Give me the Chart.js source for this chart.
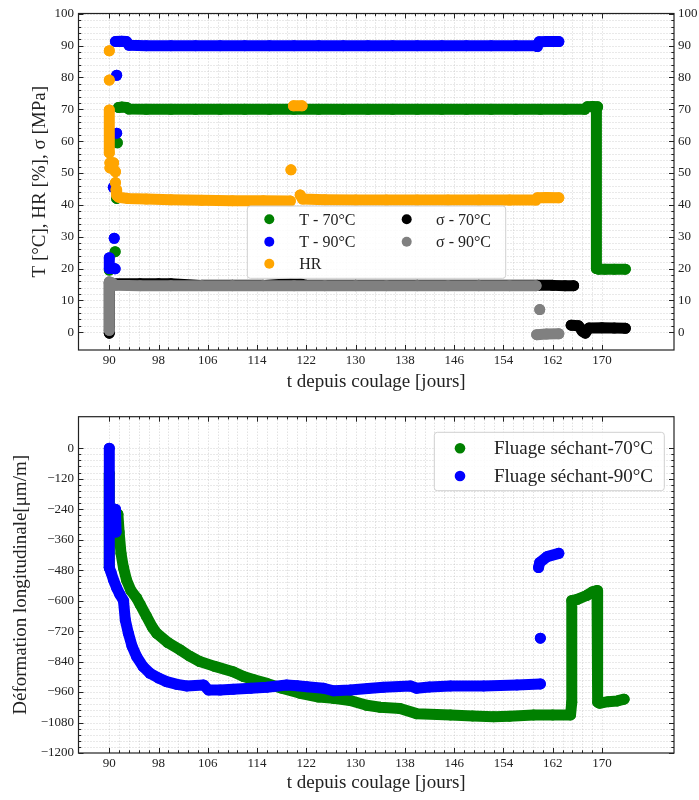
<!DOCTYPE html>
<html><head><meta charset="utf-8">
<script src="https://cdn.jsdelivr.net/npm/chart.js@4.4.0/dist/chart.umd.min.js"></script>
<style>
html,body{margin:0;padding:0;background:#fff;}
#wrap{position:relative;width:699px;height:800px;}
canvas{position:absolute;left:0;}
</style></head><body>
<div id="wrap">
<canvas id="c1" width="699" height="400" style="top:0px"></canvas>
<canvas id="c2" width="699" height="400" style="top:400px"></canvas>
</div>
<script>
// ---------- tick labels ----------
const xTicks = [90, 98, 106, 114, 122, 130, 138, 146, 154, 162, 170];
const yTicksTop = [0, 10, 20, 30, 40, 50, 60, 70, 80, 90, 100];
const yTicksBottom = [0, -120, -240, -360, -480, -600, -720, -840, -960, -1080, -1200];

// ---------- top chart series ----------
const t70Label = 'T - 70°C';
const t70X = [90.0, null, 90.95, null, 91.2, null, 91.3, null, 91.5, 92.0, 92.8, 93.2, 96, 100, 104, 108, 112, 116, 120, 124, 128, 132, 136, 140, 144, 148, 152, 156, 160, 164, 167.2, 167.6, 168.5, 169.3, 169.1, 169.1, 169.4, 170.5, 172, 173.8];
const t70Y = [19.5, null, 25.3, null, 42.0, null, 59.5, null, 70.6, 70.7, 70.6, 70.1, 70, 70, 70, 70, 70, 70, 70, 70, 70, 70, 70, 70, 70, 70, 70, 70, 70, 70, 70.0, 70.8, 70.9, 70.8, 70.0, 20.0, 19.8, 19.8, 19.8, 19.8];

const t90Label = 'T - 90°C';
const t90X = [90.0, 90.0, 90.4, 90.95, null, 90.65, null, 90.8, null, 91.2, null, 91.2, null, 91.0, 92.0, 92.8, 93.2, 96, 100, 104, 108, 112, 116, 120, 124, 128, 132, 136, 140, 144, 148, 152, 156, 159.2, 159.5, 159.8, 161, 163.0];
const t90Y = [23.4, 20.0, 20.2, 19.9, null, 45.5, null, 29.5, null, 62.5, null, 80.7, null, 91.3, 91.4, 91.3, 90.1, 90, 90, 90, 90, 90, 90, 90, 90, 90, 90, 90, 90, 90, 90, 90, 90, 90.0, 89.7, 91.2, 91.3, 91.3];

const hrLabel = 'HR';
const hrX = [90.0, null, 90.0, null, 90.0, 90.0, null, 90.1, 90.7, null, 90.1, 90.6, 91.0, null, 91.0, null, 91.1, 91.2, 91.5, 93, 96, 100, 105, 110, 115, 119.4, null, 119.5, null, 119.9, 121.3, null, 121.0, 121.4, 125, 130, 135, 140, 145, 150, 155, 159.3, 159.5, 161, 163.0];
const hrY = [88.4, null, 79.2, null, 69.8, 56.3, null, 53.2, 53.2, null, 51.6, 51.5, 50.4, null, 47.0, null, 44.8, 43.0, 42.4, 42.0, 41.8, 41.6, 41.4, 41.3, 41.3, 41.2, null, 51.0, null, 71.1, 71.1, null, 43.1, 41.8, 41.6, 41.5, 41.5, 41.5, 41.5, 41.5, 41.5, 41.5, 42.2, 42.3, 42.2];

const s70Label = 'σ - 70°C';
const s70X = [90.0, 90.0, 90.3, 95, 98, 100, 105, 110, 115, 119.5, 121, 122, 130, 140, 150, 159.5, 162, 164, 165.4, null, 165.0, 166.2, 166.8, 167.3, 167.9, 170, 172, 173.8];
const s70Y = [-0.3, 15.5, 15.3, 15.2, 15.2, 15.2, 14.7, 14.7, 14.7, 15.2, 15.2, 14.7, 14.7, 14.7, 14.7, 14.7, 14.7, 14.6, 14.6, null, 2.2, 2.0, 0.3, -0.3, 1.3, 1.4, 1.3, 1.2];

const s90Label = 'σ - 90°C';
const s90X = [90.0, 90.0, 90.4, 91.0, 95, 100, 105, 110, 115, 120, 125, 130, 135, 140, 145, 150, 155, 159.3, null, 159.9, null, 159.4, 161, 163.0];
const s90Y = [0.6, 15.8, 15.5, 14.7, 14.6, 14.6, 14.6, 14.6, 14.6, 14.6, 14.6, 14.6, 14.6, 14.6, 14.6, 14.6, 14.6, 14.6, null, 7.1, null, -0.8, -0.6, -0.5];

// ---------- bottom chart series ----------
const f70Label = 'Fluage séchant-70°C';
const f70X = [90.0, 90.0, null, 91.4, 91.6, 91.9, 92.3, 92.8, 93.5, 94.45, 95.0, 96.0, 97.0, 97.7, 99.5, 101.5, 103.0, 104.7, 107.0, 110.1, 111.8, 113.5, 115.6, 118.0, 121.0, 124.0, 126.4, 129.1, 131.8, 134.0, 137.2, 139.9, 145.4, 149.0, 152.4, 155.0, 158.9, 162.0, 164.9, 165.1, 165.1, 166.0, 167.5, 168.5, 169.2, 169.3, 169.6, 171.0, 172.5, 173.6];
const f70Y = [-100, -470, null, -260, -330, -414, -470, -519, -560, -590, -615, -660, -705, -729, -765, -794, -818, -840, -858, -880, -899, -912, -926, -945, -965, -980, -985, -993, -1012, -1020, -1025, -1045, -1050, -1054, -1057, -1055, -1050, -1050, -1050, -1000, -600, -595, -580, -565, -560, -1000, -1004, -998, -995, -988];

const f90Label = 'Fluage séchant-90°C';
const f90X = [90.0, 90.0, 90.3, 90.7, 91.2, 91.7, 92.3, 92.6, 93.1, 93.7, 94.45, 95.5, 96.6, 98.0, 99.3, 101.0, 102.6, 105.3, 106.1, 108.0, 110.1, 113.0, 115.6, 118.8, 120.5, 122.1, 124.8, 126.4, 129.1, 132.0, 134.5, 138.9, 139.9, 142.0, 145.4, 150.8, 156.2, 160.0, null, 91.0, 91.1, null, 160.0, null, 159.7, 159.9, 161.1, 163.0];
const f90Y = [0, -470, -490, -520, -550, -575, -600, -676, -729, -780, -821, -860, -886, -905, -919, -930, -936, -932, -952, -952, -949, -945, -941, -932, -935, -939, -945, -955, -952, -946, -941, -936, -945, -940, -936, -936, -932, -928, null, -240, -330, null, -748, null, -470, -450, -427, -414];

// ---------- helpers ----------
const FONT = "'Liberation Serif', 'DejaVu Serif', serif";
const TXT = '#222';
const pts = (xs, ys) => xs.map((x, i) => ({x: x, y: ys[i]}));
const minus = v => (v < 0 ? '\u2212' + Math.abs(v) : String(v));
function minors(majors, n) {
  const out = [];
  const s = [...majors].sort((a, b) => a - b);
  for (let i = 0; i < s.length - 1; i++) {
    for (let k = 0; k < n; k++) out.push(s[i] + (s[i + 1] - s[i]) * k / n);
  }
  out.push(s[s.length - 1]);
  return out;
}
function ds(label, xs, ys, color, order) {
  return {
    label, data: pts(xs, ys), order,
    showLine: true, borderColor: color, backgroundColor: color,
    borderWidth: 11, borderCapStyle: 'round', borderJoinStyle: 'round',
    pointRadius: 5.5, pointHoverRadius: 5.5, pointBorderWidth: 0, tension: 0
  };
}

const framePlugin = {
  id: 'frame',
  beforeDatasetsDraw(chart, args, o) {
    const {ctx, chartArea: a, scales} = chart;
    ctx.save();
    ctx.beginPath(); ctx.rect(a.left, a.top, a.right - a.left, a.bottom - a.top); ctx.clip();
    ctx.strokeStyle = '#c8c8c8'; ctx.lineWidth = 0.8; ctx.setLineDash([1, 2]);
    for (const v of minors(o.xMajor, 5)) {
      const p = Math.round(scales.x.getPixelForValue(v)) + 0.5;
      ctx.beginPath(); ctx.moveTo(p, a.top); ctx.lineTo(p, a.bottom); ctx.stroke();
    }
    for (const v of minors(o.yMajor, 5)) {
      const p = Math.round(scales.y.getPixelForValue(v)) + 0.5;
      ctx.beginPath(); ctx.moveTo(a.left, p); ctx.lineTo(a.right, p); ctx.stroke();
    }
    ctx.restore();
  },
  afterDatasetsDraw(chart, args, o) {
    const {ctx, chartArea: a, scales} = chart;
    ctx.save();
    ctx.strokeStyle = '#222'; ctx.lineWidth = 1;
    const mj = new Set(o.xMajor.map(v => v.toFixed(3)));
    for (const v of minors(o.xMajor, 5)) {
      const p = Math.round(scales.x.getPixelForValue(v)) + 0.5;
      const L = mj.has(v.toFixed(3)) ? 5 : 2.7;
      ctx.beginPath(); ctx.moveTo(p, a.bottom); ctx.lineTo(p, a.bottom - L);
      ctx.moveTo(p, a.top); ctx.lineTo(p, a.top + L); ctx.stroke();
    }
    const mjy = new Set(o.yMajor.map(v => v.toFixed(3)));
    for (const v of minors(o.yMajor, 5)) {
      const p = Math.round(scales.y.getPixelForValue(v)) + 0.5;
      const L = mjy.has(v.toFixed(3)) ? 5 : 2.7;
      ctx.beginPath(); ctx.moveTo(a.left, p); ctx.lineTo(a.left + L, p);
      ctx.moveTo(a.right, p); ctx.lineTo(a.right - L, p); ctx.stroke();
    }
    ctx.lineWidth = 1.2;
    ctx.strokeRect(a.left, a.top, a.right - a.left, a.bottom - a.top);
    // legend
    const lg = o.legend;
    if (lg) {
      ctx.fillStyle = 'rgba(255,255,255,0.85)';
      ctx.strokeStyle = '#d0d0d0'; ctx.lineWidth = 1;
      ctx.beginPath(); ctx.roundRect(lg.box[0], lg.box[1], lg.box[2], lg.box[3], 3);
      ctx.fill(); ctx.stroke();
      ctx.font = lg.size + 'px ' + FONT;
      ctx.textBaseline = 'middle'; ctx.textAlign = 'left';
      for (const it of lg.items) {
        const d = chart.data.datasets[it.ds];
        ctx.fillStyle = d.backgroundColor;
        ctx.beginPath(); ctx.arc(it.mx, it.y, lg.r, 0, Math.PI * 2); ctx.fill();
        ctx.fillStyle = TXT;
        ctx.fillText(d.label, it.tx, it.y + 1);
      }
    }
    ctx.restore();
  }
};

function tickAxis(majors, fmt, extra) {
  return Object.assign({
    type: 'linear',
    afterBuildTicks: s => { s.ticks = majors.map(v => ({value: v})); },
    ticks: {autoSkip: false, maxRotation: 0, minRotation: 0, color: TXT, font: {family: FONT, size: 13}, callback: v => fmt(v)},
    grid: {display: false, drawTicks: false},
    border: {display: false}
  }, extra);
}

// ---------- top chart ----------
new Chart(document.getElementById('c1'), {
  type: 'scatter',
  data: {datasets: [
    ds(t70Label, t70X, t70Y, '#008000', 5),
    ds(t90Label, t90X, t90Y, '#0000ff', 4),
    ds(hrLabel, hrX, hrY, '#ffa500', 3),
    ds(s70Label, s70X, s70Y, '#000000', 2),
    ds(s90Label, s90X, s90Y, '#808080', 1)
  ]},
  options: {
    responsive: false, animation: false, devicePixelRatio: 1, events: [],
    layout: {padding: {left: 0, right: 0, top: 13.5, bottom: 0}},
    scales: {
      x: tickAxis(xTicks, v => String(v), {
        position: 'bottom', min: 85, max: 181.7,
        ticks: {autoSkip: false, maxRotation: 0, minRotation: 0, padding: 3, color: TXT, font: {family: FONT, size: 13}, callback: v => String(v)},
        title: {display: true, text: 't depuis coulage [jours]', color: TXT, font: {family: FONT, size: 19}, padding: {top: 0, bottom: 6.9}},
        afterFit: s => { s.height = 50; }
      }),
      y: tickAxis(yTicksTop, minus, {
        position: 'left', min: -5.6, max: 100.1,
        ticks: {autoSkip: false, padding: 4.5, color: TXT, font: {family: FONT, size: 13}, callback: v => minus(v)},
        title: {display: true, text: 'T [°C], HR [%], σ [MPa]', color: TXT, font: {family: FONT, size: 19}, padding: {top: 28.6, bottom: 0}},
        afterFit: s => { s.width = 78.5; }
      }),
      y2: tickAxis(yTicksTop, minus, {
        position: 'right', min: -5.6, max: 100.1,
        ticks: {autoSkip: false, padding: 4, color: TXT, font: {family: FONT, size: 13}, callback: v => minus(v)},
        afterFit: s => { s.width = 25; }
      })
    },
    plugins: {
      legend: {display: false}, tooltip: {enabled: false},
      frame: {
        xMajor: xTicks, yMajor: yTicksTop,
        legend: {box: [247.3, 206, 258.4, 72.3], size: 16, r: 5,
          items: [
            {ds: 0, mx: 269.3, tx: 299.3, y: 219.3},
            {ds: 1, mx: 269.3, tx: 299.3, y: 241.7},
            {ds: 2, mx: 269.3, tx: 299.3, y: 263.7},
            {ds: 3, mx: 406.7, tx: 436, y: 219.3},
            {ds: 4, mx: 406.7, tx: 436, y: 241.7}
          ]}
      }
    }
  },
  plugins: [framePlugin]
});

// ---------- bottom chart ----------
new Chart(document.getElementById('c2'), {
  type: 'scatter',
  data: {datasets: [
    ds(f70Label, f70X, f70Y, '#008000', 2),
    ds(f90Label, f90X, f90Y, '#0000ff', 1)
  ]},
  options: {
    responsive: false, animation: false, devicePixelRatio: 1, events: [],
    layout: {padding: {left: 0, right: 25, top: 16.7, bottom: 0}},
    scales: {
      x: tickAxis(xTicks, v => String(v), {
        position: 'bottom', min: 85, max: 181.7,
        ticks: {autoSkip: false, maxRotation: 0, minRotation: 0, padding: 3, color: TXT, font: {family: FONT, size: 13}, callback: v => String(v)},
        title: {display: true, text: 't depuis coulage [jours]', color: TXT, font: {family: FONT, size: 19}, padding: {top: 0, bottom: 5.6}},
        afterFit: s => { s.height = 47; }
      }),
      y: tickAxis(yTicksBottom, minus, {
        position: 'left', min: -1200, max: 124,
        ticks: {autoSkip: false, padding: 4.5, color: TXT, font: {family: FONT, size: 13}, callback: v => minus(v)},
        title: {display: true, text: 'Déformation longitudinale[μm/m]', color: TXT, font: {family: FONT, size: 19}, padding: {top: 9.6, bottom: 0}},
        afterFit: s => { s.width = 78.5; }
      })
    },
    plugins: {
      legend: {display: false}, tooltip: {enabled: false},
      frame: {
        xMajor: xTicks, yMajor: yTicksBottom,
        legend: {box: [434.3, 32.3, 230, 58.4], size: 19, r: 5.3,
          items: [
            {ds: 0, mx: 460, tx: 494, y: 48.3},
            {ds: 1, mx: 460, tx: 494, y: 76}
          ]}
      }
    }
  },
  plugins: [framePlugin]
});
</script>
</body></html>
